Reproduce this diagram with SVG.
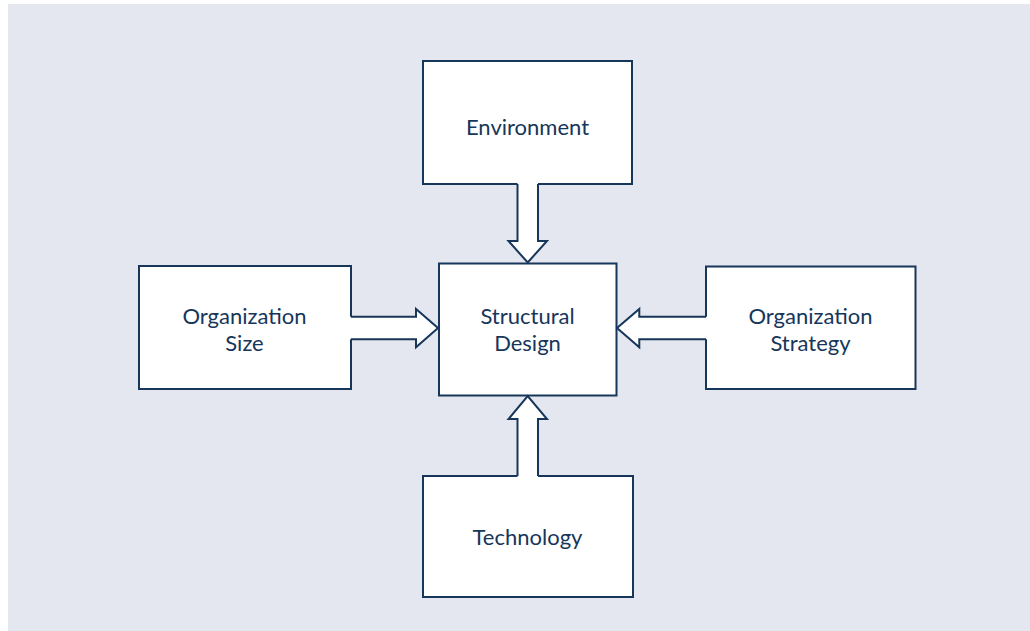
<svg xmlns="http://www.w3.org/2000/svg" width="1030" height="631" viewBox="0 0 1030 631">
  <style>
    .box { fill: #ffffff; stroke: #16365a; stroke-width: 2; }
    .afill { fill: #ffffff; stroke: none; }
    .aline { fill: none; stroke: #16365a; stroke-width: 2; stroke-linejoin: miter; }
    .lbl { font-family: Lato, "Open Sans", "Liberation Sans", sans-serif; font-size: 22px; fill: #16365a; text-anchor: middle; }
  </style>
  <rect x="8" y="4" width="1022" height="627" fill="#e4e7f0"/>

  <g id="node-environment">
    <rect class="box" x="423" y="61" width="209" height="123"/>
    <text class="lbl" x="527.5" y="135">Environment</text>
  </g>
  <g id="node-size">
    <rect class="box" x="139" y="266" width="212" height="123"/>
    <text class="lbl" x="244.5" y="323.5">Organization</text>
    <text class="lbl" x="244.5" y="350.5">Size</text>
  </g>
  <g id="node-strategy">
    <rect class="box" x="706" y="266.5" width="209.5" height="122.5"/>
    <text class="lbl" x="810.5" y="323.5">Organization</text>
    <text class="lbl" x="810.5" y="350.5">Strategy</text>
  </g>
  <g id="node-technology">
    <rect class="box" x="423" y="476" width="210" height="121"/>
    <text class="lbl" x="527.5" y="545">Technology</text>
  </g>
  <g id="node-structural">
    <rect class="box" x="439" y="263.5" width="177.5" height="132"/>
    <text class="lbl" x="527.5" y="323.5">Structural</text>
    <text class="lbl" x="527.5" y="350.5">Design</text>
  </g>

  <g id="connectors">
    <polygon class="afill" points="517.5,180 538,180 538,241 547,241 527.7,262.5 508.5,241 517.5,241"/>
    <polyline class="aline" points="517.5,184 517.5,241 508.5,241 527.7,262.5 547,241 538,241 538,184"/>
    <polygon class="afill" points="347,316.7 416,316.7 416,309 438,328 416,347.3 416,339.3 347,339.3"/>
    <polyline class="aline" points="351,316.7 416,316.7 416,309 438,328 416,347.3 416,339.3 351,339.3"/>
    <polygon class="afill" points="710,316.7 639.3,316.7 639.3,309 617,328 639.3,347.3 639.3,339.3 710,339.3"/>
    <polyline class="aline" points="706,316.7 639.3,316.7 639.3,309 617,328 639.3,347.3 639.3,339.3 706,339.3"/>
    <polygon class="afill" points="517.5,480 538,480 538,419 547,419 527.7,396 508.5,419 517.5,419"/>
    <polyline class="aline" points="517.5,476 517.5,419 508.5,419 527.7,396 547,419 538,419 538,476"/>
  </g>
</svg>
